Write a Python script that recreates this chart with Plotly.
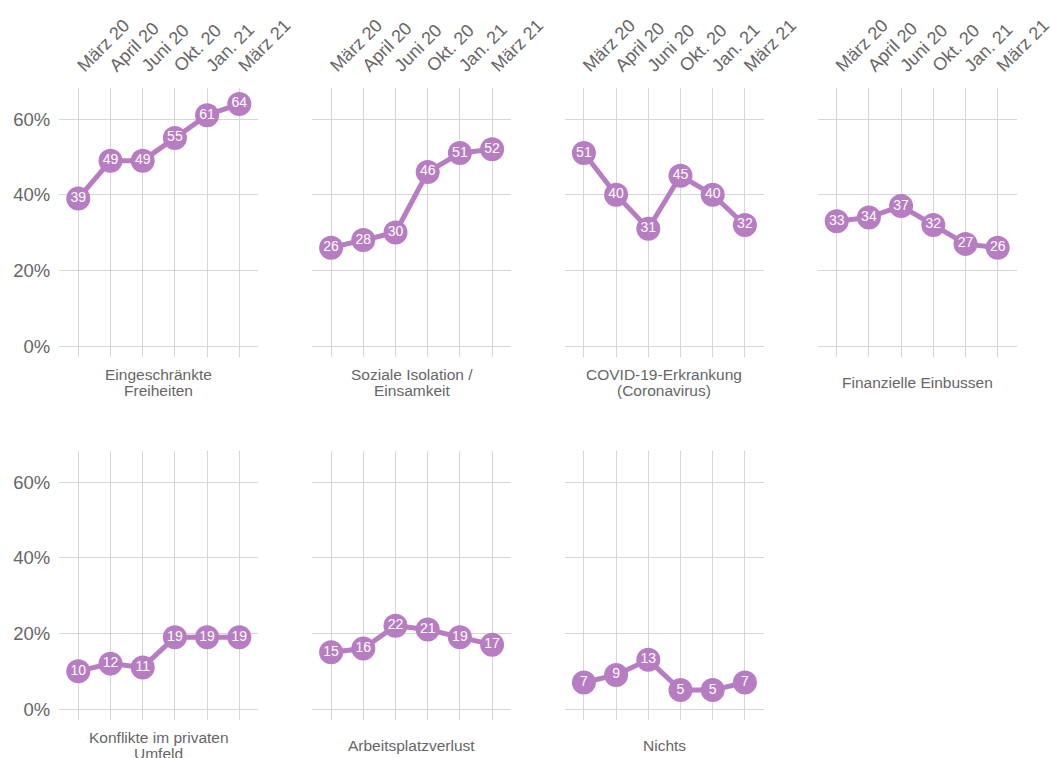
import plotly.graph_objects as go

months = ["März 20", "April 20", "Juni 20", "Okt. 20", "Jan. 21", "März 21"]
titles = [
    ["Eingeschränkte", "Freiheiten"],
    ["Soziale Isolation /", "Einsamkeit"],
    ["COVID-19-Erkrankung", "(Coronavirus)"],
    ["Finanzielle Einbussen"],
    ["Konflikte im privaten", "Umfeld"],
    ["Arbeitsplatzverlust"],
    ["Nichts"],
]
freiheiten = [39, 49, 49, 55, 61, 64]
isolation = [26, 28, 30, 46, 51, 52]
covid = [51, 40, 31, 45, 40, 32]
finanzen = [33, 34, 37, 32, 27, 26]
konflikte = [10, 12, 11, 19, 19, 19]
arbeitsplatz = [15, 16, 22, 21, 19, 17]
nichts = [7, 9, 13, 5, 5, 7]
series = [freiheiten, isolation, covid, finanzen, konflikte, arbeitsplatz, nichts]

y_ticks = [0, 20, 40, 60]
y_tick_text = ["0%", "20%", "40%", "60%"]

W, H = 1051, 758
PURPLE = "#b77dc2"
GRID = "#d6d6d6"
TXT = "#666666"
FONT = "Liberation Sans, Arial, sans-serif"

col_left = [59.3, 312.1, 564.9, 817.7]
panel_w = 199
row_top = [88, 451]
panel_h = 269

fig = go.Figure()
xpos = list(range(len(months)))

for i, (vals, title) in enumerate(zip(series, titles)):
    r, c = divmod(i, 4)
    n = i + 1
    xa = "x" if n == 1 else f"x{n}"
    ya = "y" if n == 1 else f"y{n}"
    fig.add_trace(go.Scatter(
        x=xpos, y=vals, xaxis=xa, yaxis=ya,
        mode="lines+markers+text",
        line=dict(color=PURPLE, width=5),
        marker=dict(color=PURPLE, size=24),
        text=[str(v) for v in vals],
        textposition="middle center",
        textfont=dict(color="white", size=14, family=FONT),
        hoverinfo="skip", showlegend=False, cliponaxis=False,
    ))
    x0 = col_left[c] / W
    x1 = (col_left[c] + panel_w) / W
    y1 = 1 - row_top[r] / H
    y0 = 1 - (row_top[r] + panel_h) / H
    xkey = "xaxis" if n == 1 else f"xaxis{n}"
    ykey = "yaxis" if n == 1 else f"yaxis{n}"
    fig.layout[xkey] = dict(
        domain=[x0, x1], anchor=ya, range=[-0.59, 5.59],
        tickvals=xpos, ticktext=months, side="top", tickangle=-45,
        showticklabels=(r == 0), showgrid=True, gridcolor=GRID, gridwidth=1,
        zeroline=False, showline=False, ticks="", ticklabelstandoff=8,
        ticklabeloverflow="allow",
        tickfont=dict(size=18, color=TXT, family=FONT), fixedrange=True,
        automargin=False,
    )
    fig.layout[ykey] = dict(
        domain=[y0, y1], anchor=xa, range=[-2.9, 68.2],
        tickvals=y_ticks, ticktext=y_tick_text,
        showticklabels=(c == 0), showgrid=True, gridcolor=GRID, gridwidth=1,
        zeroline=False, showline=False, ticks="", ticklabelstandoff=8,
        ticklabeloverflow="allow",
        tickfont=dict(size=18.5, color=TXT, family=FONT), fixedrange=True,
        automargin=False,
    )
    cx = (x0 + x1) / 2
    base = row_top[r] + panel_h + 25
    nl = len(title)
    for k, line in enumerate(title):
        ypix = base + (k - (nl - 1) / 2) * 16
        fig.add_annotation(
            x=cx, y=1 - ypix / H,
            xref="paper", yref="paper", text=line, showarrow=False,
            xanchor="center", yanchor="middle",
            font=dict(size=15.5, color=TXT, family=FONT),
        )

fig.update_layout(
    width=W, height=H, autosize=False,
    margin=dict(l=0, r=0, t=0, b=0, pad=0),
    paper_bgcolor="white", plot_bgcolor="white",
    font=dict(family=FONT, color=TXT),
)

post = (
    "document.body.style.margin='0';"
    "document.body.style.overflow='hidden';"
    "var gd=document.getElementById('{plot_id}');"
    "Plotly.relayout(gd,{width:1051,height:758});"
)
fig.write_html("out.html", config={"responsive": False, "displayModeBar": False},
               default_width="1051px", default_height="758px",
               post_script=post)
